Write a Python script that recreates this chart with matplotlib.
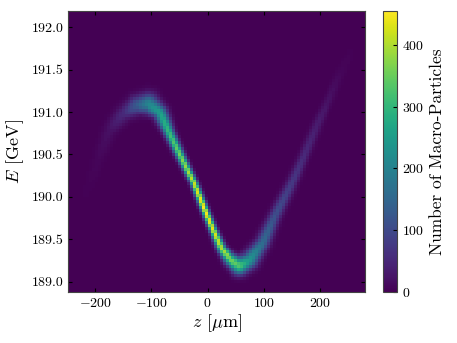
import numpy as np
import matplotlib
matplotlib.use("Agg")
import matplotlib.pyplot as plt

plt.rcParams["font.family"] = "serif"
plt.rcParams["font.serif"] = ["cmr10"]
plt.rcParams["mathtext.fontset"] = "cm"
plt.rcParams["axes.formatter.use_mathtext"] = True

# ridge of the longitudinal phase space
z_ridge = [-222, -211, -193, -175, -150, -125, -105, -85, -68, -45, -27, -9,
           10, 25, 40, 57, 75, 98, 120, 146, 170, 195, 220, 236, 254]
E_ridge = [189.95, 190.12, 190.47, 190.78, 190.98, 191.08, 191.10, 191.00, 190.75,
           190.44, 190.20, 189.90, 189.60, 189.38, 189.26, 189.18, 189.25, 189.46,
           189.78, 190.11, 190.47, 190.86, 191.22, 191.45, 191.68]
# peak counts per bin along the ridge
n_ridge = [1, 3, 8, 20, 55, 130, 210, 255, 310, 370, 410, 455,
           435, 400, 360, 330, 240, 160, 110, 80, 55, 35, 18, 8, 3]
# band half-width in bins
w_ridge = [1.2, 1.3, 1.4, 1.6, 1.8, 2.1, 2.2, 1.6, 1.1, 0.9, 0.8, 0.8,
           0.8, 1.0, 1.4, 1.8, 1.8, 1.5, 1.3, 1.2, 1.1, 1.1, 1.1, 1.1, 1.1]

zlim = (-248, 280)
Elim = (188.88, 192.19)
nz, nE = 100, 95

z_edges = np.linspace(zlim[0], zlim[1], nz + 1)
E_edges = np.linspace(Elim[0], Elim[1], nE + 1)
dz = z_edges[1] - z_edges[0]
dE = E_edges[1] - E_edges[0]
zc = 0.5 * (z_edges[1:] + z_edges[:-1])
Ec = 0.5 * (E_edges[1:] + E_edges[:-1])
ZZ, EE = np.meshgrid(zc, Ec)

# fill the bins from the distance to the ridge
t = np.linspace(0, len(z_ridge) - 1, 3000)
idx = np.arange(len(z_ridge))
rz = np.interp(t, idx, z_ridge)
rE = np.interp(t, idx, E_ridge)
rn = np.interp(t, idx, n_ridge)
rw = np.interp(t, idx, w_ridge)

dist = np.sqrt(((ZZ.ravel()[:, None] - rz[None, :]) / dz) ** 2 +
               ((EE.ravel()[:, None] - rE[None, :]) / dE) ** 2)
near = dist.argmin(axis=1)
d = dist[np.arange(dist.shape[0]), near]
H = rn[near] * np.exp(-0.5 * (d / rw[near]) ** 2)
H = np.round(H).reshape(ZZ.shape)

fig = plt.figure(figsize=(4.57, 3.43), dpi=100)
ax = fig.add_axes([0.149, 0.149, 0.650, 0.819])
cax = fig.add_axes([0.838, 0.149, 0.031, 0.819])

mesh = ax.pcolormesh(z_edges, E_edges, H, cmap="viridis", vmin=0, vmax=455)
ax.set_xlim(zlim)
ax.set_ylim(Elim)
ax.set_xticks([-200, -100, 0, 100, 200])
ax.set_yticks(np.arange(189.0, 192.01, 0.5))
ax.yaxis.set_major_formatter(matplotlib.ticker.FormatStrFormatter("%.1f"))
ax.tick_params(direction="in", top=True, right=True, labelsize=10, length=3)
ax.set_xlabel(r"$z$ [$\mu$m]", fontsize=13, labelpad=2)
ax.set_ylabel(r"$E$ [GeV]", fontsize=13, labelpad=4)
for s in ax.spines.values():
    s.set_color("#444444")

cb = fig.colorbar(mesh, cax=cax)
cb.set_ticks([0, 100, 200, 300, 400])
cb.ax.tick_params(direction="in", labelsize=10, length=3)
cb.set_label("Number of Macro-Particles", fontsize=12.5)
cb.outline.set_edgecolor("#444444")

fig.savefig("out.png", dpi=100)
